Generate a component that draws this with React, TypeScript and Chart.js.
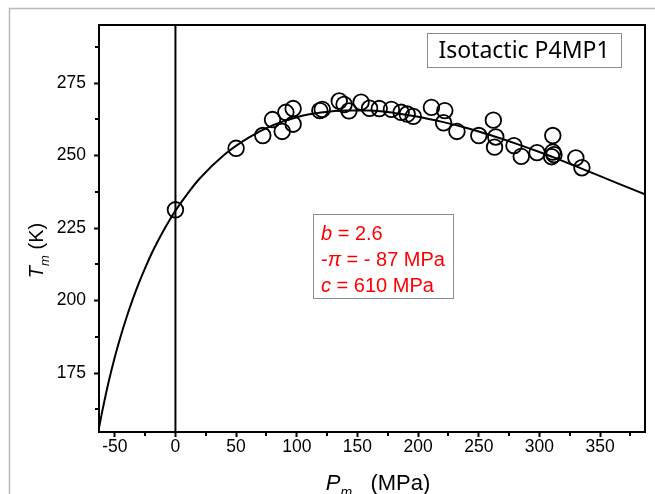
import React, { useEffect, useRef } from "react";
import { Chart, registerables } from "chart.js";

Chart.register(...registerables);

// ---- data ----
const xTicks = [-50, 0, 50, 100, 150, 200, 250, 300, 350];
const yTicks = [175, 200, 225, 250, 275];
const xRange = [-63, 387];
const yRange = [154.7, 295];

// measured melting points (P in MPa, T in K)
const measP = [0, 50, 72, 80, 88, 91, 97, 97, 119, 121, 135, 139, 143, 153, 160, 168, 178, 186, 191, 196, 211, 222, 221, 232, 250, 262, 264, 263, 279, 285, 298, 311, 311, 310, 312, 330, 335];
const measT = [231.3, 252.5, 256.9, 262.4, 258.3, 264.9, 260.8, 266.2, 265.5, 265.9, 268.8, 267.6, 265.4, 268.4, 266.3, 266.2, 265.9, 264.9, 264.3, 263.5, 266.6, 265.5, 261.3, 258.3, 256.9, 262.2, 256.4, 252.9, 253.4, 249.7, 251.0, 256.9, 251.2, 249.6, 250.3, 249.2, 245.8];

// fitted curve
const fitP = [-63, -60, -55, -50, -45, -40, -35, -30, -25, -20, -15, -10, -5, 0, 10, 20, 40, 60, 80, 100, 120, 140, 160, 180, 200, 220, 240, 260, 280, 300, 320, 340, 360, 387];
const fitT = [156.1, 162.5, 172.1, 180.5, 187.9, 194.6, 200.7, 206.2, 211.2, 215.9, 220.1, 224.0, 227.6, 231.0, 236.9, 242.1, 250.2, 256.1, 260.4, 263.2, 264.8, 265.5, 265.5, 264.7, 263.4, 261.6, 259.5, 257.0, 254.2, 251.2, 248.0, 244.6, 241.2, 236.6];

const zeroLineP = [0, 0];

const sampleName = "Isotactic P4MP1";
const paramLines = [
  [{ t: "b", i: true }, { t: " = 2.6", i: false }],
  [{ t: "-", i: false }, { t: "\u03C0", i: true }, { t: " = - 87 MPa", i: false }],
  [{ t: "c", i: true }, { t: " = 610 MPa", i: false }],
];

const SANS = '"Liberation Sans", Arial, sans-serif';

type Run = { t: string; i?: boolean; sub?: boolean };

function runFont(r: Run, size: number) {
  const s = r.sub ? Math.round(size * 0.65) : size;
  return `${r.i ? "italic " : ""}${s}px ${SANS}`;
}

function drawRuns(ctx: CanvasRenderingContext2D, runs: Run[], x: number, y: number, size: number, align: "left" | "center") {
  let total = 0;
  const widths = runs.map((r) => {
    ctx.font = runFont(r, size);
    const w = ctx.measureText(r.t).width;
    total += w;
    return w;
  });
  let cx = align === "center" ? x - total / 2 : x;
  runs.forEach((r, k) => {
    ctx.font = runFont(r, size);
    ctx.fillText(r.t, cx, y + (r.sub ? size * 0.3 : 0));
    cx += widths[k];
  });
}

const decorPlugin = {
  id: "decor",
  afterDraw(chart: any) {
    const { ctx, chartArea: a } = chart;
    const xs = chart.scales.x;
    const ys = chart.scales.y;
    ctx.save();

    // outer figure frame
    ctx.strokeStyle = "#b9b9b9";
    ctx.lineWidth = 1.5;
    ctx.beginPath();
    ctx.moveTo(9.5, 494);
    ctx.lineTo(9.5, 8.5);
    ctx.lineTo(655, 8.5);
    ctx.stroke();

    // plot box
    ctx.strokeStyle = "#000";
    ctx.lineWidth = 2;
    ctx.strokeRect(a.left, a.top, a.right - a.left, a.bottom - a.top);

    // minor ticks
    ctx.lineWidth = 2;
    ctx.beginPath();
    const xs0 = xTicks[1] - xTicks[0];
    for (let v = xTicks[0] - xs0 / 2; v <= xRange[1]; v += xs0) {
      if (v < xRange[0]) continue;
      const px = Math.round(xs.getPixelForValue(v));
      ctx.moveTo(px, a.bottom);
      ctx.lineTo(px, a.bottom + 4);
    }
    const ys0 = yTicks[1] - yTicks[0];
    for (let v = yTicks[0] - ys0 / 2; v <= yRange[1]; v += ys0) {
      if (v < yRange[0]) continue;
      const py = Math.round(ys.getPixelForValue(v));
      ctx.moveTo(a.left, py);
      ctx.lineTo(a.left - 4, py);
    }
    ctx.stroke();

    // axis titles
    ctx.fillStyle = "#000";
    ctx.textBaseline = "alphabetic";
    ctx.textAlign = "left";
    drawRuns(ctx, [{ t: "P", i: true }, { t: "m", i: true, sub: true }, { t: "   (MPa)" }], (a.left + a.right) / 2 + 6, 490, 22, "center");
    ctx.save();
    ctx.translate(43, (a.top + a.bottom) / 2 + 22);
    ctx.rotate(-Math.PI / 2);
    drawRuns(ctx, [{ t: "T", i: true }, { t: "m", i: true, sub: true }, { t: " (K)" }], 0, 0, 20, "center");
    ctx.restore();

    // sample name box
    const bx = a.right - 218, by = a.top + 8, bw = 194, bh = 34;
    ctx.fillStyle = "#fff";
    ctx.fillRect(bx, by, bw, bh);
    ctx.strokeStyle = "#8c8c8c";
    ctx.lineWidth = 1;
    ctx.strokeRect(bx + 0.5, by + 0.5, bw, bh);
    ctx.fillStyle = "#000";
    ctx.font = '23px "Comic Sans MS", "Noto Sans", sans-serif';
    ctx.textAlign = "center";
    ctx.textBaseline = "middle";
    ctx.fillText(sampleName, bx + bw / 2, by + bh / 2 + 1);

    // parameter box
    const px0 = 313, py0 = 214, pw = 140, ph = 84;
    ctx.fillStyle = "#fff";
    ctx.fillRect(px0, py0, pw, ph);
    ctx.strokeStyle = "#8c8c8c";
    ctx.strokeRect(px0 + 0.5, py0 + 0.5, pw, ph);
    ctx.fillStyle = "#ff0000";
    ctx.textAlign = "left";
    ctx.textBaseline = "alphabetic";
    paramLines.forEach((line, k) => {
      drawRuns(ctx, line, px0 + 8, py0 + 26 + k * 26, 20, "left");
    });

    ctx.restore();
  },
};

export default function App() {
  const ref = useRef<HTMLCanvasElement>(null);
  useEffect(() => {
    const canvas = ref.current!;
    const chart = new Chart(canvas, {
      type: "scatter",
      data: {
        datasets: [
          {
            type: "line",
            label: "fit",
            data: fitP.map((p, k) => ({ x: p, y: fitT[k] })),
            borderColor: "#000",
            borderWidth: 2,
            pointRadius: 0,
            cubicInterpolationMode: "monotone",
            fill: false,
          } as any,
          {
            type: "line",
            label: "zero",
            data: zeroLineP.map((p, k) => ({ x: p, y: yRange[k] })),
            borderColor: "#000",
            borderWidth: 2,
            pointRadius: 0,
            fill: false,
          } as any,
          {
            label: "data",
            data: measP.map((p, k) => ({ x: p, y: measT[k] })),
            pointStyle: "circle",
            pointRadius: 7.8,
            borderWidth: 1.8,
            borderColor: "#000",
            backgroundColor: "rgba(0,0,0,0)",
          },
        ],
      },
      options: {
        responsive: false,
        animation: false,
        devicePixelRatio: 1,
        layout: { padding: { left: 0, top: 25, right: 10, bottom: 0 } },
        plugins: { legend: { display: false }, tooltip: { enabled: false } },
        scales: {
          x: {
            type: "linear",
            min: xRange[0],
            max: xRange[1],
            afterBuildTicks: (s: any) => {
              s.ticks = xTicks.map((v) => ({ value: v }));
            },
            afterFit: (s: any) => {
              s.height = 62;
            },
            grid: { drawOnChartArea: false, drawTicks: true, tickLength: 5, tickWidth: 2, tickColor: "#000", color: "#000" },
            border: { display: false },
            ticks: { color: "#000", font: { family: SANS, size: 17.5 }, padding: 0, maxRotation: 0 },
          },
          y: {
            type: "linear",
            min: yRange[0],
            max: yRange[1],
            afterBuildTicks: (s: any) => {
              s.ticks = yTicks.map((v) => ({ value: v }));
            },
            afterFit: (s: any) => {
              s.width = 99;
            },
            grid: { drawOnChartArea: false, drawTicks: true, tickLength: 5, tickWidth: 2, tickColor: "#000", color: "#000" },
            border: { display: false },
            ticks: { color: "#000", font: { family: SANS, size: 17.5 }, padding: 8 },
          },
        },
      },
      plugins: [decorPlugin],
    } as any);
    return () => chart.destroy();
  }, []);
  return (
    <div style={{ position: "absolute", left: 0, top: 0, width: 655, height: 494, background: "#fff" }}>
      <canvas ref={ref} width={655} height={494} style={{ display: "block", width: 655, height: 494 }} />
    </div>
  );
}
